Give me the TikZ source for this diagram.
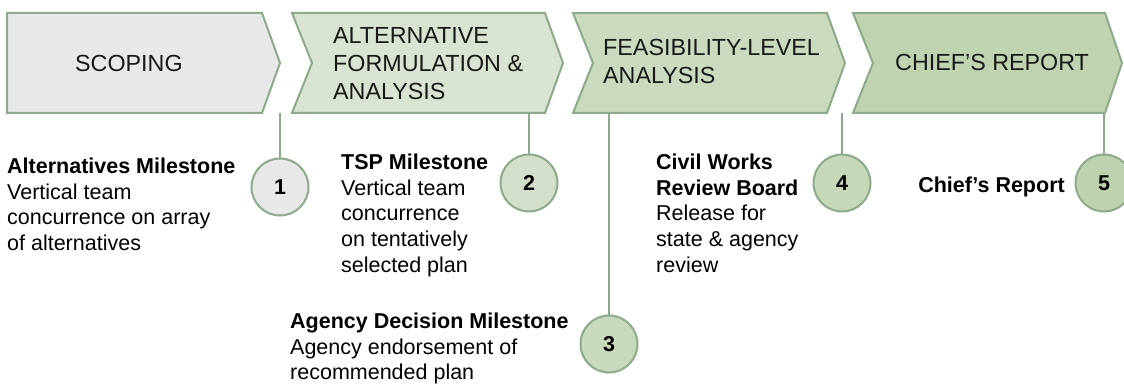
\documentclass[tikz,border=0pt]{standalone}
\usepackage{fontspec}
\setmainfont{Liberation Sans}
\definecolor{edge}{HTML}{8DAA8A}
\definecolor{fillA}{HTML}{E8E8E8}
\definecolor{fillB}{HTML}{D9E3D1}
\definecolor{fillC}{HTML}{CBDABF}
\definecolor{fillD}{HTML}{BFD3B1}
\definecolor{circB}{HTML}{D3DFCA}
\definecolor{circC}{HTML}{C9D9BE}
\definecolor{circD}{HTML}{C6D7BA}
\definecolor{circE}{HTML}{BED2B0}
\begin{document}
\begin{tikzpicture}[x=1pt,y=-1pt,
  chev/.style={draw=edge,line width=2pt,line join=miter},
  phase/.style={font=\fontsize{23.3}{28}\selectfont,align=left,inner sep=0pt,text=black!90,anchor=west},
  mile/.style={circle,draw=edge,line width=2pt,minimum size=57pt,inner sep=0pt,font=\fontsize{21.5}{21.5}\selectfont\bfseries},
  conn/.style={draw=edge,line width=2pt},
  desc/.style={font=\fontsize{21.5}{25.8}\selectfont,align=left,inner sep=0pt,anchor=north west}]
\useasboundingbox (0,0) rectangle (1124,385);
\fill[white] (0,0) rectangle (1124,385);
% chevrons
\path[chev,fill=fillA] (7,13) -- (262,13) -- (280,63) -- (262,113) -- (7,113) -- cycle;
\path[chev,fill=fillB] (292,13) -- (545,13) -- (563,63) -- (545,113) -- (292,113) -- (312,63) -- cycle;
\path[chev,fill=fillC] (573,13) -- (827,13) -- (845,63) -- (827,113) -- (573,113) -- (593,63) -- cycle;
\path[chev,fill=fillD] (853,13) -- (1105,13) -- (1122,63) -- (1105,113) -- (853,113) -- (873,63) -- cycle;
% phase labels
\node[phase] (p1) at (75,63.5) {SCOPING};
\node[phase] (p2) at (333,63.5) {ALTERNATIVE\\FORMULATION \&\\ANALYSIS};
\node[phase] (p3) at (603,61) {FEASIBILITY-LEVEL\\ANALYSIS};
\node[phase] (p4) at (895,62) {CHIEF’S REPORT};
% connector tops
\coordinate (t1) at (280,113);
\coordinate (t2) at (529,113);
\coordinate (t3) at (609,113);
\coordinate (t4) at (842,113);
\coordinate (t5) at (1104,113);
% milestones
\node[mile,fill=fillA] (m1) at (280,187) {1};
\node[mile,fill=circB] (m2) at (529,183) {2};
\node[mile,fill=circC] (m3) at (609,344) {3};
\node[mile,fill=circD] (m4) at (842,183) {4};
\node[mile,fill=circE] (m5) at (1104,183) {5};
\draw[conn] (t1) -- (m1);
\draw[conn] (t2) -- (m2);
\draw[conn] (t3) -- (m3);
\draw[conn] (t4) -- (m4);
\draw[conn] (t5) -- (m5);
% descriptions
\node[desc] (d1) at (7,157.6) {\textbf{Alternatives Milestone}\\Vertical team\\concurrence on array\\of alternatives};
\node[desc] (d2) at (341,153.6) {\textbf{TSP Milestone}\\Vertical team\\concurrence\\on tentatively\\selected plan};
\node[desc] (d4) at (656,153.6) {\textbf{Civil Works}\\\textbf{Review Board}\\Release for\\state \& agency\\review};
\node[desc] (d3) at (290,312.6) {\textbf{Agency Decision Milestone}\\Agency endorsement of\\recommended plan};
\node[desc,anchor=base east] (d5) at (1065,192) {\textbf{Chief’s Report}};
\end{tikzpicture}
\end{document}
